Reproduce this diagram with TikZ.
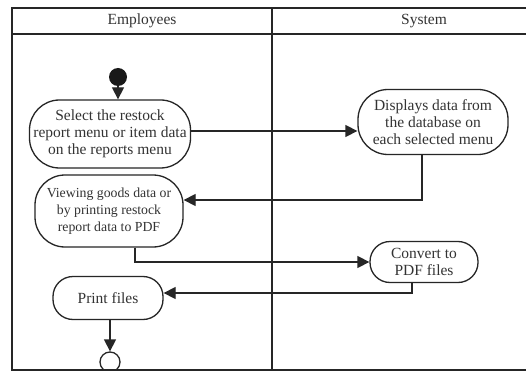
\documentclass[tikz,border=0pt]{standalone}
\usepackage{fontspec}
\setmainfont{Liberation Serif}
\usetikzlibrary{arrows.meta}

\begin{document}
\begin{tikzpicture}[x=1pt, y=-1pt,
    lane/.style={draw=black!85, line width=1.5pt},
    act/.style={draw=black!85, line width=1.3pt, rounded corners=30pt,
      align=center, text=black!80, inner sep=1pt,
      font=\fontsize{15.5}{17}\selectfont},
    smallact/.style={act, rounded corners=20pt},
    flow/.style={draw=black!85, line width=1.3pt,
      -{Triangle[length=12pt, width=12pt]}},
    lanetitle/.style={text=black!80, font=\fontsize{15.5}{17}\selectfont}
  ]
  \useasboundingbox (0,0) rectangle (526,371);
  \fill[white] (0,0) rectangle (526,371);

  \draw[lane] (526,8) -- (12,8) -- (12,370) -- (526,370);
  \draw[lane] (12,34) -- (526,34);
  \draw[lane] (272,8) -- (272,370);
  \node[lanetitle] (emp) at (142,21) {Employees};
  \node[lanetitle] (sys) at (424,21) {System};

  \node[circle, fill=black!90, minimum size=18pt, inner sep=0pt] (start) at (118,77) {};
  \node[act, minimum width=161pt, minimum height=68pt] (select) at (110,134)
    {Select the restock\\report menu or item data\\on the reports menu};
  \node[act, minimum width=150pt, minimum height=65pt] (display) at (433,122)
    {Displays data from\\the database on\\each selected menu};
  \node[act, minimum width=148pt, minimum height=72pt,
    font=\fontsize{13.8}{17}\selectfont] (view) at (109,211)
    {Viewing goods data or\\by printing restock\\report data to PDF};
  \node[smallact, minimum width=108pt, minimum height=41pt] (convert) at (424,262)
    {Convert to\\PDF files};
  \node[smallact, minimum width=110pt, minimum height=43pt] (print) at (108,298)
    {Print files};
  \node[circle, draw=black!85, line width=1.3pt, minimum size=20pt, inner sep=0pt] (stop) at (110,362) {};

  \draw[flow] (start) -- (start |- select.north);
  \draw[flow] ([yshift=3pt]select.east) -- ([yshift=3pt]select.east -| display.west);
  \draw[flow] ([xshift=-11pt]display.south) |- ([yshift=11pt]view.east);
  \draw[flow] ([xshift=26pt]view.south) |- (convert.west);
  \draw[flow] ([xshift=-12pt]convert.south) |- ([yshift=5pt]print.east);
  \draw[flow] (print.south -| stop) -- (stop);
\end{tikzpicture}
\end{document}
